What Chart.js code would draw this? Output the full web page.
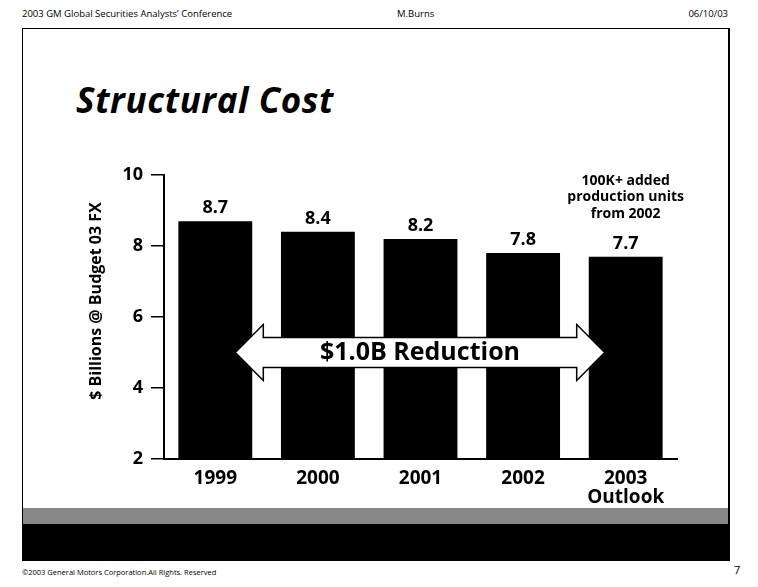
<!DOCTYPE html>
<html>
<head>
<meta charset="utf-8">
<script src="https://cdn.jsdelivr.net/npm/chart.js@4"></script>
<style>
  body { margin: 0; background: #fff; }
  #page { position: relative; width: 758px; height: 587px; font-family: "Open Sans", sans-serif; color: #000; overflow: hidden; }
  .hdr { position: absolute; top: 7px; font-size: 9.5px; }
  #frame { position: absolute; left: 22px; top: 28px; width: 705px; height: 531px; border: 1px solid #000; border-right-width: 2px; }
  #title { position: absolute; left: 76px; top: 82px; font-size: 35px; line-height: 1; font-weight: bold; font-style: italic; letter-spacing: 0.6px; }
  #grayBand { position: absolute; left: 23px; top: 508px; width: 705px; height: 16px; background: #888; }
  #blackBand { position: absolute; left: 23px; top: 524px; width: 705px; height: 36px; background: #000; }
  .foot { position: absolute; font-size: 7.5px; top: 567px; }
  #wrap { position: absolute; left: 0; top: 0; width: 758px; height: 587px; }
</style>
</head>
<body>
<div id="page">
  <div class="hdr" style="left:22px">2003 GM Global Securities Analysts’ Conference</div>
  <div class="hdr" style="left:397px">M.Burns</div>
  <div class="hdr" style="right:30px">06/10/03</div>
  <div id="frame"></div>
  <div id="title">Structural Cost</div>
  <div id="grayBand"></div>
  <div id="blackBand"></div>
  <div class="foot" style="left:22px">©2003 General Motors Corporation.All Rights. Reserved</div>
  <div class="foot" style="left:734px; top:562px; font-size:11px">7</div>
  <div id="wrap"><canvas id="costChart"></canvas></div>
</div>
<script>
// chart data
const years = [['1999'], ['2000'], ['2001'], ['2002'], ['2003', 'Outlook']]
const costs = [8.7, 8.4, 8.2, 7.8, 7.7]
const yTicks = [2, 4, 6, 8, 10]
const axisTitle = '$ Billions @ Budget 03 FX'
const noteLines = ['100K+ added', 'production units', 'from 2002']
const arrowText = '$1.0B Reduction'
const arrowLevel = 5

const fontName = '"Open Sans", sans-serif'

// value labels, axis title, note and the reduction arrow
const extras = {
    id: 'extras',
    afterDatasetsDraw(chart) {
        const ctx = chart.ctx
        const xs = chart.scales.x
        const ys = chart.scales.y
        const bars = chart.getDatasetMeta(0).data

        ctx.save()
        ctx.fillStyle = '#000'
        ctx.textAlign = 'center'
        ctx.textBaseline = 'bottom'
        ctx.font = 'bold 18px ' + fontName
        bars.forEach((bar, i) => {
            ctx.fillText(costs[i].toFixed(1), bar.x, bar.y - 4)
        })

        // y axis title, sits a bit above the middle of the axis
        ctx.save()
        ctx.translate(96, ys.getPixelForValue(6) - 16)
        ctx.rotate(-Math.PI / 2)
        ctx.textBaseline = 'middle'
        ctx.font = 'bold 16px ' + fontName
        ctx.fillText(axisTitle, 0, 0)
        ctx.restore()

        // note above the last bar
        const last = bars[bars.length - 1]
        ctx.font = 'bold 14px ' + fontName
        ctx.textBaseline = 'middle'
        noteLines.forEach((line, i) => {
            ctx.fillText(line, last.x, ys.getPixelForValue(10) + 6 + i * 16.5)
        })

        // double arrow
        const x0 = xs.getPixelForValue(0) + 20
        const x1 = xs.getPixelForValue(costs.length - 1) - 21
        const yc = ys.getPixelForValue(arrowLevel)
        const head = 28, hh = 28, bh = 15
        ctx.beginPath()
        ctx.moveTo(x0, yc)
        ctx.lineTo(x0 + head, yc - hh)
        ctx.lineTo(x0 + head, yc - bh)
        ctx.lineTo(x1 - head, yc - bh)
        ctx.lineTo(x1 - head, yc - hh)
        ctx.lineTo(x1, yc)
        ctx.lineTo(x1 - head, yc + hh)
        ctx.lineTo(x1 - head, yc + bh)
        ctx.lineTo(x0 + head, yc + bh)
        ctx.lineTo(x0 + head, yc + hh)
        ctx.closePath()
        ctx.fillStyle = '#fff'
        ctx.fill()
        ctx.lineWidth = 1.5
        ctx.strokeStyle = '#000'
        ctx.stroke()

        ctx.fillStyle = '#000'
        ctx.font = 'bold 25px ' + fontName
        ctx.fillText(arrowText, (x0 + x1) / 2, yc)
        ctx.restore()
    }
}

const ctx = document.getElementById('costChart').getContext('2d')
const costChart = new Chart(ctx, {
    type: 'bar',
    data: {
        labels: years,
        datasets: [
            {
                data: costs,
                backgroundColor: '#000',
                borderWidth: 0,
                barPercentage: 0.72,
                categoryPercentage: 1
            }
        ]
    },
    options: {
        responsive: true,
        maintainAspectRatio: false,
        animation: false,
        layout: {
            padding: { top: 175, right: 81, bottom: 68, left: 0 }
        },
        plugins: {
            legend: { display: false },
            tooltip: { enabled: false }
        },
        scales: {
            x: {
                grid: { display: false, drawTicks: false },
                border: { display: true, color: '#000', width: 2 },
                ticks: {
                    color: '#000',
                    padding: 10,
                    maxRotation: 0,
                    font: { family: fontName, size: 19, weight: 'bold', lineHeight: 1.0 }
                },
                afterFit(scale) { scale.height = 60 }
            },
            y: {
                min: 2,
                max: 10,
                afterBuildTicks(scale) {
                    scale.ticks = yTicks.map(v => ({ value: v }))
                },
                grid: { drawOnChartArea: false, drawTicks: true, tickLength: 13, color: '#000', lineWidth: 1.5 },
                border: { display: true, color: '#000', width: 2 },
                ticks: {
                    color: '#000',
                    padding: 8,
                    font: { family: fontName, size: 18, weight: 'bold' }
                },
                afterFit(scale) { scale.width = 164 }
            }
        }
    },
    plugins: [extras]
})
</script>
</body>
</html>
